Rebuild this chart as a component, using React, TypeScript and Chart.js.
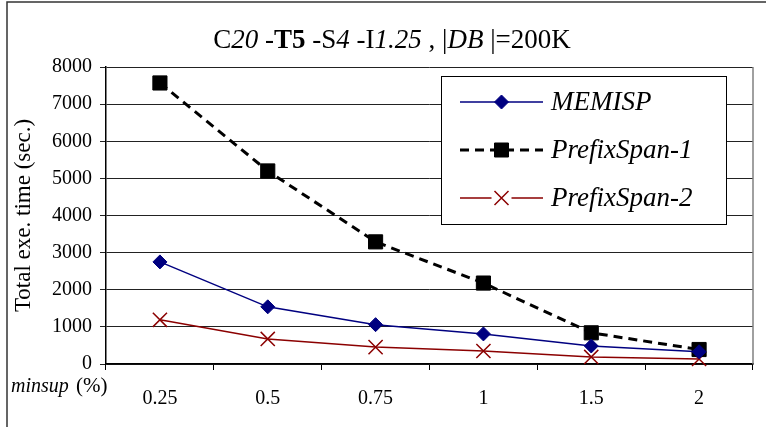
import React, { useEffect, useRef } from 'react';
import { Chart, registerables } from 'chart.js';

Chart.register(...registerables);

// ---- data ----
const categories = ['0.25', '0.5', '0.75', '1', '1.5', '2'];
const memisp = [2750, 1540, 1060, 810, 485, 330];
const prefixSpan1 = [7570, 5200, 3290, 2180, 840, 390];
const prefixSpan2 = [1190, 675, 455, 350, 190, 135];
const seriesNames = ['MEMISP', 'PrefixSpan-1', 'PrefixSpan-2'];
const yAxisTitle = 'Total exe. time (sec.)';
const xAxisLabelItalic = 'minsup';
const xAxisLabelUnit = '(%)';
const titleRuns: { t: string; s: string }[] = [
  { t: 'C', s: 'normal' },
  { t: '20', s: 'italic' },
  { t: ' -', s: 'normal' },
  { t: 'T5', s: 'bold' },
  { t: ' -S', s: 'normal' },
  { t: '4', s: 'italic' },
  { t: ' -I', s: 'normal' },
  { t: '1.25', s: 'italic' },
  { t: ' , |', s: 'normal' },
  { t: 'DB', s: 'italic' },
  { t: ' |=200K', s: 'normal' },
];

const SERIF = "'Liberation Serif', 'Times New Roman', serif";

const fontFor = (style: string, size: number) =>
  style === 'italic'
    ? `italic ${size}px ${SERIF}`
    : style === 'bold'
    ? `bold ${size}px ${SERIF}`
    : `${size}px ${SERIF}`;

const framePlugin = {
  id: 'frame',
  beforeDraw(chart: any) {
    const ctx = chart.ctx;
    ctx.save();
    ctx.fillStyle = '#fff';
    ctx.fillRect(0, 0, chart.width, chart.height);
    ctx.strokeStyle = '#333';
    ctx.lineWidth = 1.5;
    ctx.strokeRect(7, 2, chart.width + 20, chart.height + 20);
    ctx.restore();
  },
  afterDraw(chart: any) {
    const ctx = chart.ctx;
    const a = chart.chartArea;
    ctx.save();
    // right border of plot area
    ctx.strokeStyle = '#808080';
    ctx.lineWidth = 1.5;
    ctx.beginPath();
    ctx.moveTo(a.right, a.top);
    ctx.lineTo(a.right, a.bottom);
    ctx.stroke();

    // title
    const size = 27;
    let total = 0;
    for (const r of titleRuns) {
      ctx.font = fontFor(r.s, size);
      total += ctx.measureText(r.t).width;
    }
    let x = 392 - total / 2;
    ctx.fillStyle = '#000';
    ctx.textBaseline = 'alphabetic';
    ctx.textAlign = 'left';
    for (const r of titleRuns) {
      ctx.font = fontFor(r.s, size);
      ctx.fillText(r.t, x, 48);
      x += ctx.measureText(r.t).width;
    }

    // x label
    ctx.font = fontFor('italic', 20);
    ctx.fillText(xAxisLabelItalic, 11, 392);
    ctx.font = fontFor('normal', 21);
    ctx.fillText(xAxisLabelUnit, 76, 392);

    // legend
    const bx = 441, by = 76, bw = 285, bh = 148;
    ctx.fillStyle = '#fff';
    ctx.fillRect(bx, by, bw, bh);
    ctx.strokeStyle = '#000';
    ctx.lineWidth = 1;
    ctx.strokeRect(bx + 0.5, by + 0.5, bw, bh);
    chart.data.datasets.forEach((ds: any, i: number) => {
      const y = by + 26 + i * 48;
      const x0 = bx + 19, x1 = bx + 102, xm = (x0 + x1) / 2;
      ctx.save();
      ctx.strokeStyle = ds.borderColor;
      ctx.lineWidth = ds.borderWidth;
      ctx.setLineDash(ds.borderDash || []);
      ctx.beginPath();
      if (ds.pointStyle === 'crossRot') {
        ctx.moveTo(x0, y); ctx.lineTo(xm - 10, y);
        ctx.moveTo(xm + 10, y); ctx.lineTo(x1, y);
      } else {
        ctx.moveTo(x0, y); ctx.lineTo(x1, y);
      }
      ctx.stroke();
      ctx.setLineDash([]);
      ctx.fillStyle = ds.pointBackgroundColor;
      ctx.strokeStyle = ds.pointBorderColor;
      ctx.lineWidth = ds.pointBorderWidth;
      ctx.beginPath();
      if (ds.pointStyle === 'rectRot') {
        ctx.moveTo(xm - 7, y); ctx.lineTo(xm, y - 7); ctx.lineTo(xm + 7, y); ctx.lineTo(xm, y + 7);
        ctx.closePath(); ctx.fill(); ctx.stroke();
      } else if (ds.pointStyle === 'rect') {
        ctx.rect(xm - 7, y - 7, 14, 14); ctx.fill(); ctx.stroke();
      } else {
        ctx.moveTo(xm - 7, y - 7); ctx.lineTo(xm + 7, y + 7);
        ctx.moveTo(xm + 7, y - 7); ctx.lineTo(xm - 7, y + 7);
        ctx.stroke();
      }
      ctx.fillStyle = '#000';
      ctx.font = fontFor('italic', 27);
      ctx.textBaseline = 'middle';
      ctx.fillText(ds.label, bx + 110, y + 1);
      ctx.restore();
    });
    ctx.restore();
  },
};

export default function App() {
  const ref = useRef<HTMLCanvasElement>(null);
  useEffect(() => {
    Chart.defaults.color = '#000';
    const chart = new Chart(ref.current as HTMLCanvasElement, {
      type: 'line',
      data: {
        labels: categories,
        datasets: [
          {
            label: seriesNames[0],
            data: memisp,
            borderColor: '#000080',
            backgroundColor: '#000080',
            borderWidth: 1.5,
            pointStyle: 'rectRot',
            pointRadius: 7,
            pointBackgroundColor: '#000080',
            pointBorderColor: '#000080',
            pointBorderWidth: 1,
            tension: 0,
            clip: false,
          } as any,
          {
            label: seriesNames[1],
            data: prefixSpan1,
            borderColor: '#000',
            backgroundColor: '#000',
            borderWidth: 3,
            borderDash: [9, 6],
            pointStyle: 'rect',
            pointRadius: 10,
            pointBackgroundColor: '#000',
            pointBorderColor: '#000',
            pointBorderWidth: 1,
            tension: 0,
            clip: false,
          } as any,
          {
            label: seriesNames[2],
            data: prefixSpan2,
            borderColor: '#8B0000',
            backgroundColor: '#8B0000',
            borderWidth: 1.5,
            pointStyle: 'crossRot',
            pointRadius: 10,
            pointBackgroundColor: '#8B0000',
            pointBorderColor: '#8B0000',
            pointBorderWidth: 1.5,
            tension: 0,
            clip: false,
          } as any,
        ],
      },
      options: {
        responsive: false,
        animation: false,
        devicePixelRatio: 1,
        layout: { padding: { top: 67, right: 13, left: 0, bottom: 0 } },
        plugins: { legend: { display: false }, tooltip: { enabled: false }, title: { display: false } },
        scales: {
          x: {
            type: 'category',
            offset: true,
            grid: { offset: true, drawOnChartArea: false, drawTicks: true, tickLength: 6, color: '#000', lineWidth: 1 },
            border: { color: '#000', width: 1.5 },
            ticks: { font: { family: SERIF, size: 20 }, color: '#000', padding: 17, maxRotation: 0 },
            afterFit: (s: any) => { s.height = 63; },
          },
          y: {
            min: 0,
            max: 8000,
            ticks: {
              stepSize: 1000,
              font: { family: SERIF, size: 20 },
              color: '#000',
              padding: 8,
              callback: (v: any) => String(v),
            },
            grid: { color: '#222', lineWidth: 1, tickLength: 6, drawTicks: true },
            border: { color: '#000', width: 1.5 },
            title: {
              display: true,
              text: yAxisTitle,
              font: { family: SERIF, size: 23 },
              color: '#000',
              padding: { top: 10, bottom: 0 },
            },
            afterFit: (s: any) => { s.width = 106; },
          },
        },
      } as any,
      plugins: [framePlugin],
    });
    return () => chart.destroy();
  }, []);
  return (
    <div style={{ position: 'fixed', left: 0, top: 0, width: 766, height: 427, background: '#fff' }}>
      <canvas ref={ref} width={766} height={427} style={{ display: 'block', width: 766, height: 427 }} />
    </div>
  );
}
